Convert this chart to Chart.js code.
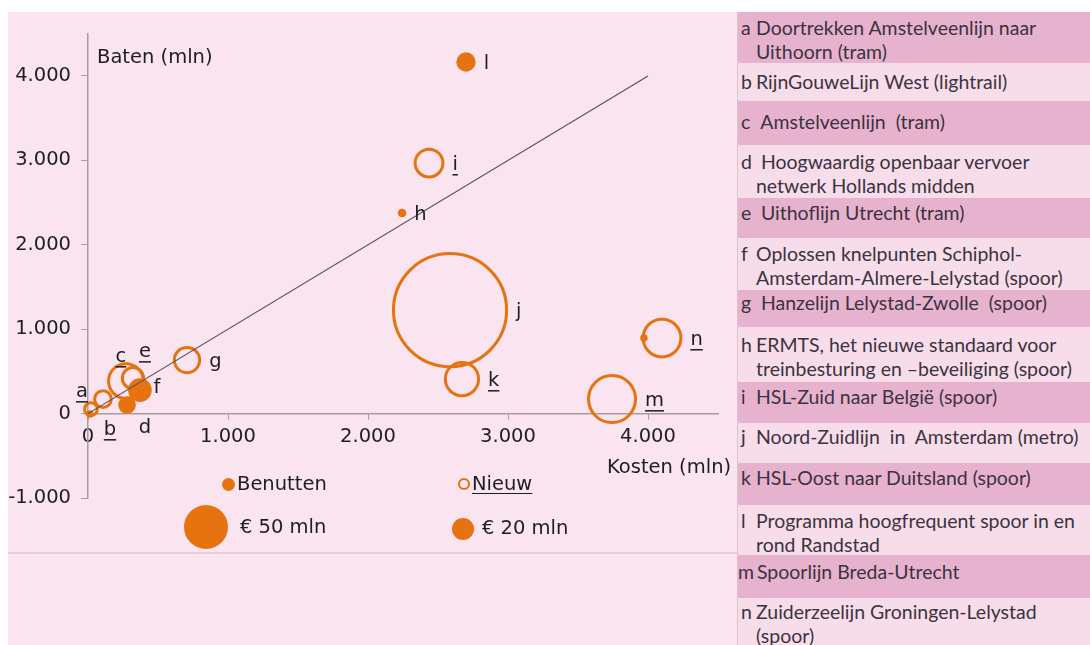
<!DOCTYPE html>
<html><head><meta charset="utf-8">
<script src="https://cdn.jsdelivr.net/npm/chart.js@4.4.1/dist/chart.umd.min.js"></script>
<style>
html,body{margin:0;padding:0;background:#fff;}
body{width:1090px;height:645px;position:relative;overflow:hidden;font-family:"DejaVu Sans",sans-serif;}
#bg{position:absolute;left:8px;top:12px;width:1082px;height:633px;background:#f9e4ef;}
#sep{position:absolute;left:8px;top:552px;width:730px;height:2px;background:#eccadb;}
#vline{position:absolute;left:737px;top:12px;width:1px;height:633px;background:#dcc3d0;}
#cv{position:absolute;left:0;top:0;}
.t{position:absolute;white-space:nowrap;color:#1e1e1e;font-size:19.5px;line-height:24px;}
.dot{position:absolute;border-radius:50%;box-sizing:border-box;}
.row{position:absolute;left:738px;width:352px;box-sizing:border-box;overflow:hidden;}
.row .L{position:absolute;color:#3b3340;}
.row .T{position:absolute;color:#3b3340;white-space:pre;}
</style></head>
<body>
<div id="bg"></div>
<div id="sep"></div>
<div id="vline"></div>
<canvas id="cv" width="738" height="645"></canvas>
<div id="overlay"></div>
<div id="tbl"></div>
<script>
// ---- data ----
const benLabels = ['d','f','h','l','',''];
const benKosten = [279, 371, 2243, 2700, 14, 3971];
const benBaten  = [101, 278, 2376, 4165, -6, 895];
const benOmvang = [15, 22, 6, 17, 5, 5];

const nwLabels = ['a','b','c','e','g','i','j','k','m','n'];
const nwKosten = [21, 107, 271, 321, 707, 2436, 2586, 2671, 3743, 4100];
const nwBaten  = [53, 172, 385, 420, 634, 2968, 1226, 409, 172, 895];
const nwOmvang = [10, 14, 36, 19, 24, 27, 163, 34, 53, 40];

const trendKosten = [0, 4000];
const trendBaten  = [0, 4000];

const xTicks = [0, 1000, 2000, 3000, 4000];
const yTicks = [-1000, 0, 1000, 2000, 3000, 4000];
const xRange = [0, 4500];
const yRange = [-1000, 4500];

const xTitle = 'Kosten (mln)';
const yTitle = 'Baten (mln)';
const seriesNames = ['Benutten', 'Nieuw'];
const legendSizes = [50, 20];
const legendSizeLabels = ['€ 50 mln', '€ 20 mln'];

const tableLetters = ['a','b','c','d','e','f','g','h','i','j','k','l','m','n'];
const tableTexts = [
  'Doortrekken Amstelveenlijn naar\nUithoorn (tram)',
  'RijnGouweLijn West (lightrail)',
  ' Amstelveenlijn  (tram)',
  ' Hoogwaardig openbaar vervoer\nnetwerk Hollands midden',
  ' Uithoflijn Utrecht (tram)',
  'Oplossen knelpunten Schiphol-\nAmsterdam-Almere-Lelystad (spoor)',
  ' Hanzelijn Lelystad-Zwolle  (spoor)',
  'ERMTS, het nieuwe standaard voor\ntreinbesturing en \u2013beveiliging (spoor)',
  'HSL-Zuid naar Belgi\u00eb (spoor)',
  'Noord-Zuidlijn  in  Amsterdam (metro)',
  'HSL-Oost naar Duitsland (spoor)',
  'Programma hoogfrequent spoor in en\nrond Randstad',
  'Spoorlijn Breda-Utrecht',
  'Zuiderzeelijn Groningen-Lelystad\n(spoor)'
];

// ---- styles ----
const ORANGE = '#e6730f';
const TEXT = '#1e1e1e';
const AXIS = '#a49ca2';
const FONT = 'DejaVu Sans';
const radiusOf = v => 1.059 * Math.pow(v, 0.781);   // size key: € 50 mln / € 20 mln
const fmt = v => (v < 0 ? '-' : '') + Math.abs(v).toString().replace(/\B(?=(\d{3})+(?!\d))/g, '.');

const labelStyle = {
  gap: 8, dy: 2,
  manual: {a:[-9,-17], b:[7,31], c:[-5,-24], e:[12,-26], d:[18,23], f:[17,-2]},
  underline: ['a','b','c','e','i','k','m','n']
};

const pointLabelPlugin = {
  id: 'pointLabels',
  afterDatasetsDraw(chart) {
    const ctx = chart.ctx;
    ctx.save();
    ctx.font = '19.5px "' + FONT + '"';
    ctx.fillStyle = TEXT;
    ctx.textBaseline = 'middle';
    ctx.textAlign = 'center';
    chart.data.datasets.forEach((ds, di) => {
      if (!ds.pointLabels) return;
      const meta = chart.getDatasetMeta(di);
      meta.data.forEach((el, i) => {
        const t = ds.pointLabels[i];
        if (!t) return;
        const r = el.options.radius + (el.options.borderWidth || 0) / 2;
        const w = ctx.measureText(t).width;
        let cx, cy;
        if (labelStyle.manual[t]) { cx = el.x + labelStyle.manual[t][0]; cy = el.y + labelStyle.manual[t][1]; }
        else { cx = el.x + r + labelStyle.gap + w / 2; cy = el.y + labelStyle.dy; }
        ctx.fillText(t, cx, cy);
        if (labelStyle.underline.includes(t)) ctx.fillRect(cx - w / 2, cy + 9, w, 1.5);
      });
    });
    ctx.restore();
  }
};

const tickFont = {family: FONT, size: 19.5};
const zeroPad = s => { s.paddingLeft = 0; s.paddingRight = 0; s.paddingTop = 0; s.paddingBottom = 0; };
const want = {left: 88, top: 33.7, right: 718, bottom: 498};

const chart = new Chart(document.getElementById('cv'), {
  data: {
    datasets: [
      {type: 'line', data: trendKosten.map((x, i) => ({x, y: trendBaten[i]})),
       borderColor: '#555', borderWidth: 1.2, pointRadius: 0, order: 0},
      {type: 'bubble', label: seriesNames[0], pointLabels: benLabels,
       data: benKosten.map((x, i) => ({x, y: benBaten[i], r: radiusOf(benOmvang[i])})),
       backgroundColor: ORANGE, borderColor: ORANGE, borderWidth: 0, order: 1, clip: false},
      {type: 'bubble', label: seriesNames[1], pointLabels: nwLabels,
       data: nwKosten.map((x, i) => ({x, y: nwBaten[i], r: radiusOf(nwOmvang[i])})),
       backgroundColor: 'rgba(0,0,0,0)', borderColor: ORANGE, borderWidth: 3, order: 2, clip: false}
    ]
  },
  plugins: [pointLabelPlugin],
  options: {
    responsive: false, animation: false, devicePixelRatio: 1, events: [],
    layout: {autoPadding: false, padding: {left: 0, top: want.top, right: 738 - want.right, bottom: 645 - want.bottom}},
    plugins: {legend: {display: false}, tooltip: {enabled: false}},
    scales: {
      x: {type: 'linear', min: xRange[0], max: xRange[1], position: {y: 0},
        afterBuildTicks: s => { s.ticks = xTicks.map(v => ({value: v})); },
        afterFit: zeroPad,
        ticks: {callback: v => fmt(v), font: tickFont, color: TEXT, padding: 7, maxRotation: 0, autoSkip: false},
        grid: {display: true, drawOnChartArea: false, drawTicks: true, tickLength: 5, tickColor: AXIS},
        border: {display: true, color: AXIS, width: 1.5}},
      y: {type: 'linear', min: yRange[0], max: yRange[1], position: 'left',
        afterBuildTicks: s => { s.ticks = yTicks.map(v => ({value: v})); },
        afterFit: s => { s.width = want.left; zeroPad(s); },
        ticks: {callback: v => fmt(v), font: tickFont, color: TEXT, padding: 10, autoSkip: false},
        grid: {display: true, drawOnChartArea: false, drawTicks: true, tickLength: 7, tickColor: AXIS},
        border: {display: true, color: AXIS, width: 1.5}}
    }
  }
});
// correct the layout so the plot area lands where the reference has it
for (let k = 0; k < 3; k++) {
  const a = chart.chartArea;
  const p = chart.config.options.layout.padding;
  const dT = want.top - a.top, dB = a.bottom - want.bottom, dR = a.right - want.right;
  if (Math.abs(dT) < 0.3 && Math.abs(dB) < 0.3 && Math.abs(dR) < 0.3) break;
  p.top += dT; p.bottom += dB; p.right += dR;
  chart.update();
}

// ---- HTML overlay: axis titles and legend ----
const ov = document.getElementById('overlay');
function addText(txt, left, centerY, extra) {
  const d = document.createElement('div');
  d.className = 't'; d.textContent = txt;
  d.style.left = left + 'px'; d.style.top = (centerY - 12) + 'px';
  if (extra) Object.assign(d.style, extra);
  ov.appendChild(d);
}
function addDot(cx, cy, r, filled, bw) {
  const d = document.createElement('div');
  d.className = 'dot';
  d.style.left = (cx - r) + 'px'; d.style.top = (cy - r) + 'px';
  d.style.width = d.style.height = (2 * r) + 'px';
  if (filled) d.style.background = ORANGE; else d.style.border = bw + 'px solid ' + ORANGE;
  ov.appendChild(d);
}
addText(yTitle, 97, 57);
addText(xTitle, 607, 467);
addDot(228, 484, 6.5, true);
addText(seriesNames[0], 237, 484);
addDot(464, 484, 6, false, 2.5);
addText(seriesNames[1], 472, 484, {textDecoration: 'underline', textUnderlineOffset: '3px'});
addDot(206, 527, radiusOf(legendSizes[0]), true);
addText(legendSizeLabels[0], 240, 527);
addDot(463, 529, radiusOf(legendSizes[1]), true);
addText(legendSizeLabels[1], 482, 528);

// ---- table on the right ----
const rowLayout = [ // [top, height, first-line center]
  [12,51,28],[63,38,82],[101,44,122],[145,53,162],[198,40,213],[238,52,254],[290,37,303],
  [327,55,345],[382,41,397],[423,40,437],[463,42,478],[505,50,521],[555,43,572],[598,47,612]
];
const DARK = '#e7b2cd', LIGHT = '#f7dcea';
const mc = document.createElement('canvas').getContext('2d');
mc.font = '100px Lato';
const tfs = 281 / mc.measureText('Doortrekken Amstelveenlijn naar').width * 100;
mc.font = tfs.toFixed(2) + 'px Lato';
const tbl = document.getElementById('tbl');
tableLetters.forEach((L, i) => {
  const [top, h, c] = rowLayout[i];
  const row = document.createElement('div');
  row.className = 'row';
  row.style.top = top + 'px'; row.style.height = h + 'px';
  row.style.background = i % 2 === 0 ? DARK : LIGHT;
  const fs = 'font-family:Lato,sans-serif;font-size:' + tfs.toFixed(2) + 'px;line-height:23.5px;';
  const pad = c - top - 11.75;
  const lw = mc.measureText(L).width;
  const lLeft = lw > 12 ? 0 : 3;
  const tLeft = Math.max(18, lLeft + lw + 3);
  row.innerHTML = '<div class="L" style="' + fs + 'top:' + pad + 'px;left:' + lLeft + 'px"></div><div class="T" style="' + fs + 'top:' + pad + 'px;left:' + tLeft + 'px"></div>';
  row.querySelector('.L').textContent = L;
  row.querySelector('.T').textContent = tableTexts[i];
  tbl.appendChild(row);
});
</script>
</body></html>
